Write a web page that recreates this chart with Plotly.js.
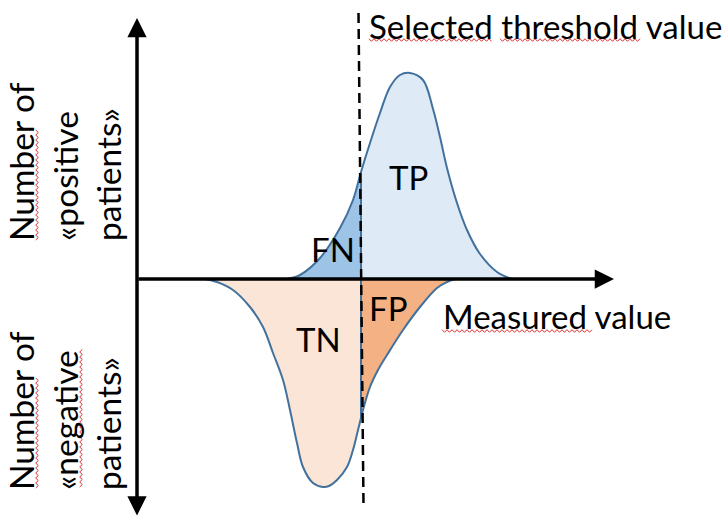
<!DOCTYPE html>
<html>
<head>
<meta charset="utf-8">
<script src="https://cdn.plot.ly/plotly-3.0.1.min.js"></script>
<style>
  html, body { margin: 0; padding: 0; background: #ffffff; }
  #chart { width: 723px; height: 519px; }
</style>
</head>
<body>
<div id="chart"></div>
<script>
// Measured value (x) vs number of patients (y): positive patients above the axis, negative patients below.
const threshold = 224;

const posX = [150, 163, 183, 203, 216, 224, 233, 243, 253, 263, 273, 286, 296, 303, 310, 320, 330, 343, 360, 375];
const posY = [0, 4, 21, 51, 79, 107, 136, 166, 192, 204, 206, 199, 170, 142, 111, 76, 49, 25, 7, 0];

const negX = [68, 80, 96, 113, 126, 136, 146, 153, 160, 166, 176, 186, 192, 200, 210, 216, 221, 224, 226, 233, 241, 250, 266, 283, 300, 310, 318];
const negY = [0, -3, -11, -28, -48, -74, -101, -131, -164, -188, -204, -208, -207, -201, -188, -171, -151, -139, -131, -108, -91, -76, -51, -28, -9, -3, 0];

const regionLabels = ["TP", "FN", "TN", "FP"];
const thresholdLabel = "Selected threshold value";
const xLabel = "Measured value";
const posLabel = "Number of<br>«positive<br>patients»";
const negLabel = "Number of<br>«negative<br>patients»";

const outline = "#41719C";
const colTP = "#DEEBF7", colFN = "#9DC3E6", colTN = "#FBE5D6", colFP = "#F4B183";
const FONT = "Lato, 'Open Sans', sans-serif";

function split(xs, ys, left) {
  const ox = [], oy = [];
  xs.forEach((x, i) => {
    if ((left && x <= threshold) || (!left && x >= threshold)) { ox.push(x); oy.push(ys[i]); }
  });
  return [ox, oy];
}
const [fnX, fnY] = split(posX, posY, true);
const [tpX, tpY] = split(posX, posY, false);
const [tnX, tnY] = split(negX, negY, true);
const [fpX, fpY] = split(negX, negY, false);

function fillTrace(x, y, color) {
  return { x, y, type: "scatter", mode: "lines", fill: "tozeroy", fillcolor: color,
           line: { width: 0, shape: "spline", smoothing: 1 }, hoverinfo: "skip", showlegend: false };
}
function outlineTrace(x, y) {
  return { x, y, type: "scatter", mode: "lines",
           line: { width: 2, color: outline, shape: "spline", smoothing: 1 }, hoverinfo: "skip", showlegend: false };
}

const data = [
  fillTrace(tpX, tpY, colTP),
  fillTrace(fnX, fnY, colFN),
  fillTrace(tnX, tnY, colTN),
  fillTrace(fpX, fpY, colFP),
  outlineTrace(posX, posY),
  outlineTrace(negX, negY)
];

const posAtT = posY[posX.indexOf(threshold)];
const negAtT = negY[negX.indexOf(threshold)];

// wavy red spell-check underline, drawn in paper pixels
function squiggle(x0, y0, len, vertical) {
  let d = "";
  const step = 2.5, amp = 1.3;
  for (let s = 0, k = 0; s <= len; s += step, k++) {
    const off = (k % 2 === 0) ? -amp : amp;
    const px = vertical ? x0 + off : x0 + s;
    const py = vertical ? y0 - s : y0 + off;
    d += (k === 0 ? "M" : "L") + (px / 723).toFixed(5) + "," + (1 - py / 519).toFixed(5) + " ";
  }
  return { type: "path", xref: "paper", yref: "paper", path: d,
           line: { color: "#E03030", width: 1 }, layer: "above" };
}

const shapes = [
  { type: "line", xref: "x", yref: "y", x0: threshold, x1: threshold, y0: 0, y1: posAtT,
    line: { color: outline, width: 2 }, layer: "above" },
  { type: "line", xref: "x", yref: "y", x0: threshold, x1: threshold, y0: 0, y1: negAtT,
    line: { color: outline, width: 2 }, layer: "above" },
  { type: "line", xref: "x", yref: "y", x0: threshold - 2.5, x1: threshold + 2.5, y0: 266, y1: -226,
    line: { color: "#000000", width: 2.5, dash: "10px,6px" }, layer: "above" },
  squiggle(369, 40, 124, false),
  squiggle(500, 40, 140, false),
  squiggle(442, 331, 150, false),
  squiggle(37, 240, 112, true),
  squiggle(37, 488, 112, true),
  squiggle(81, 487, 138, true)
];

function txt(x, y, text, extra) {
  return Object.assign({ x, y, xref: "x", yref: "y", text, showarrow: false,
    font: { family: FONT, size: 33, color: "#000000" } }, extra || {});
}

const annotations = [
  // x axis arrow
  { x: 477, y: 0, ax: 0, ay: 0, xref: "x", yref: "y", axref: "x", ayref: "y", text: "",
    showarrow: true, arrowhead: 2, arrowsize: 1.1, arrowwidth: 3.5, arrowcolor: "#000000" },
  // y axis double arrow
  { x: 0, y: 261, ax: 0, ay: -238, xref: "x", yref: "y", axref: "x", ayref: "y", text: "",
    showarrow: true, arrowhead: 2, startarrowhead: 2, arrowside: "end+start", arrowsize: 1.1, startarrowsize: 1.1,
    arrowwidth: 3.5, arrowcolor: "#000000" },
  txt(230, 253, thresholdLabel, { xanchor: "left", yanchor: "middle" }),
  txt(304, -37, xLabel, { xanchor: "left", yanchor: "middle" }),
  txt(271, 102, regionLabels[0]),
  txt(196, 30, regionLabels[1]),
  txt(181, -60, regionLabels[2]),
  txt(251, -29, regionLabels[3]),
  txt(-73, 117, posLabel, { textangle: -90, align: "left", font: { family: FONT, size: 33.5, color: "#000000" } }),
  txt(-73, -132, negLabel, { textangle: -90, align: "left", font: { family: FONT, size: 33.5, color: "#000000" } })
];

const layout = {
  width: 723, height: 519,
  margin: { l: 0, r: 0, t: 0, b: 0, pad: 0 },
  paper_bgcolor: "#ffffff", plot_bgcolor: "#ffffff",
  xaxis: { range: [-137, 586], visible: false, fixedrange: true },
  yaxis: { range: [-240, 279], visible: false, fixedrange: true },
  showlegend: false,
  shapes, annotations
};

Plotly.newPlot("chart", data, layout, { displayModeBar: false, staticPlot: true });
</script>
</body>
</html>
